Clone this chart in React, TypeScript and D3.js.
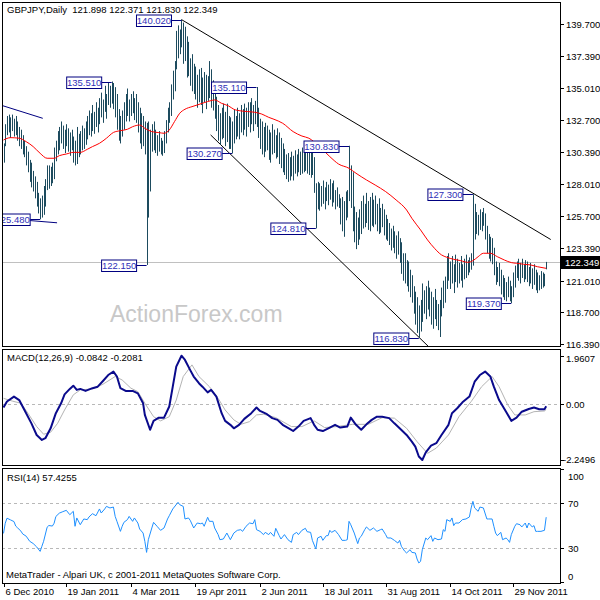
import React from 'react';
import * as d3 from 'd3';

const highs = [
131.0,132.4,133.0,133.1,132.9,133.1,132.8,133.0,132.6,132.2,
132.0,131.6,131.2,130.8,130.4,129.8,129.6,129.0,128.6,128.2,
127.4,127.0,127.2,127.9,128.4,129.4,129.4,129.3,129.6,130.7,
131.2,131.9,132.2,132.6,132.3,132.0,132.4,132.1,131.8,132.0,
131.5,131.2,132.2,131.7,131.9,132.3,132.1,132.6,133.0,133.4,
133.2,133.8,133.3,134.0,133.6,134.3,134.7,134.2,135.2,134.6,
135.4,135.2,135.51,135.4,135.1,134.6,133.5,133.0,133.4,134.0,
134.6,135.0,134.2,134.6,134.8,134.3,134.6,134.0,133.6,133.2,
133.0,132.6,132.5,132.6,132.0,132.4,132.6,132.0,131.6,131.9,
131.4,131.2,131.9,132.7,133.6,134.0,135.3,136.3,137.0,139.2,
139.6,139.3,140.02,139.8,139.5,138.8,138.4,137.2,137.5,136.8,
136.6,136.0,136.4,136.5,135.8,136.2,136.0,135.9,137.0,136.4,
135.6,135.2,134.4,133.8,133.2,133.6,133.9,133.3,133.9,133.0,
132.9,132.6,133.5,133.0,133.6,133.2,133.8,133.5,133.9,133.6,
134.0,134.0,134.3,133.8,134.1,135.11,133.6,132.8,132.6,132.2,
132.5,132.3,132.0,131.8,132.4,132.0,131.6,132.1,131.8,131.4,
131.0,130.6,130.2,130.3,130.0,130.4,130.1,130.5,130.2,130.6,
130.4,130.7,130.3,130.8,130.5,130.7,130.4,130.6,130.0,128.1,
128.2,128.1,127.9,128.3,127.8,128.2,128.0,128.4,128.1,128.3,
127.6,127.8,127.3,127.0,127.1,126.8,127.5,127.6,130.83,129.4,
128.9,126.4,126.0,125.6,126.2,126.8,127.2,126.6,127.4,126.8,
127.1,127.4,126.9,127.2,126.6,127.0,126.3,126.6,126.2,125.8,
125.5,125.2,124.8,125.0,124.6,124.3,124.6,124.1,123.8,123.0,
123.0,122.5,122.4,121.8,121.4,120.6,120.2,119.8,119.2,119.6,
120.8,120.3,120.6,121.0,120.5,120.2,119.8,120.4,119.6,119.3,
119.6,120.5,121.0,121.3,122.8,123.0,122.4,122.8,122.2,122.9,
122.6,122.3,122.8,122.2,122.6,122.9,122.5,122.7,123.0,127.3,
126.6,126.0,125.8,126.2,126.0,126.3,125.9,125.0,124.4,124.2,
124.1,123.4,122.4,122.0,122.3,121.8,121.4,121.2,120.9,121.3,
121.0,120.6,121.6,122.1,122.4,122.6,122.3,122.6,122.2,122.5,
122.4,122.0,122.3,121.9,122.2,121.8,121.6,121.4,121.7,121.6,
121.5,122.371
];

const lows = [
129.6,130.8,131.6,131.8,131.4,131.9,131.5,131.6,131.2,130.8,
130.6,130.2,130.0,129.4,128.9,128.2,127.8,127.5,127.0,126.4,
125.9,125.48,125.6,125.8,126.4,127.6,127.7,127.9,128.1,128.4,
129.7,130.2,130.5,131.0,130.6,130.3,130.8,130.4,130.1,130.5,
129.6,129.4,129.5,130.0,130.2,130.5,130.6,130.9,131.3,131.6,
131.5,131.9,131.7,132.2,131.8,132.4,132.9,132.5,133.3,132.8,
133.8,133.6,133.9,133.5,132.9,132.0,131.2,131.0,131.5,132.0,
132.6,133.0,132.6,133.0,133.2,132.7,132.5,131.8,131.0,130.6,
130.8,130.2,122.15,125.6,127.5,130.4,130.5,130.3,130.1,130.4,
130.2,130.1,130.3,131.0,131.8,132.5,133.0,134.2,134.8,136.4,
137.2,137.5,138.0,136.8,137.0,135.8,135.9,135.2,134.8,134.6,
134.2,133.6,134.0,133.8,133.2,134.0,133.5,134.1,134.3,133.6,
133.4,132.8,131.9,131.2,130.9,131.3,131.4,130.8,131.1,130.6,
130.6,130.27,131.0,131.3,131.5,131.3,131.8,131.6,132.0,131.5,
132.2,131.8,132.4,131.9,132.4,132.2,131.4,130.6,130.2,130.0,
130.4,130.5,129.8,129.6,130.2,130.3,129.9,130.0,129.5,129.2,
128.9,128.7,128.4,128.2,128.3,128.6,128.3,128.8,128.6,128.9,
128.7,128.8,128.9,129.0,128.8,128.7,128.5,128.7,127.4,124.81,
126.2,126.1,126.4,126.6,126.2,126.8,126.5,126.9,126.4,126.7,
126.2,126.4,126.3,125.1,124.6,124.2,125.4,125.6,126.8,126.3,
124.6,123.8,123.3,123.6,124.0,124.4,124.8,124.9,125.2,124.7,
124.6,125.0,124.9,125.1,124.6,124.4,124.5,124.9,124.3,124.0,
123.9,123.6,123.2,123.4,123.0,122.6,122.9,122.3,121.5,121.0,
120.8,120.6,120.2,119.8,119.4,118.6,117.8,117.2,116.83,117.3,
118.0,118.6,118.2,118.9,118.4,117.8,117.5,118.2,117.7,117.4,
116.9,118.4,119.0,119.4,120.4,121.0,120.4,120.8,120.1,120.9,
120.5,120.8,121.0,120.5,121.1,121.2,121.4,121.6,121.8,122.1,
124.0,124.4,124.3,124.7,124.6,125.0,124.0,123.0,122.6,122.4,
122.2,121.4,120.7,120.9,120.6,120.0,119.8,119.6,119.5,119.8,
119.5,119.37,119.8,120.5,121.2,121.0,120.8,121.2,120.9,121.1,
120.9,120.6,120.8,120.4,120.7,120.3,120.1,120.3,120.4,120.5,
120.6,121.83
];

// [bar, value]
const maPoints: [number, number][] = [
[0,131.25],[4,131.42],[9,131.38],[13,131.13],[17,130.77],[21,130.28],[25,129.92],[29,129.92],
[32,130.11],[36,130.23],[40,130.35],[44,130.35],[48,130.57],[51,130.77],[55,131.01],[59,131.38],
[63,131.8],[67,131.93],[71,132.03],[74,132.22],[78,132.34],[81,132.1],[85,131.86],[89,131.79],
[92,131.74],[95,131.98],[98,132.59],[101,133.2],[104,133.49],[108,133.68],[111,133.8],[115,133.97],
[119,134.12],[121,134.17],[125,133.92],[129,133.73],[132,133.49],[136,133.37],[140,133.32],[144,133.27],
[148,133.14],[152,132.9],[155,132.76],[160,132.47],[166,131.86],[171,131.54],[175,131.38],[181,130.77],
[187,130.04],[192,129.5],[198,129.19],[202,128.83],[208,128.34],[213,127.97],[219,127.49],[225,126.88],
[231,126.15],[234,125.55],[239,124.7],[243,123.97],[247,123.36],[251,122.88],[254,122.71],[258,122.56],
[262,122.46],[266,122.34],[269,122.46],[272,122.75],[275,123.0],[279,123.0],[283,122.75],[287,122.51],
[291,122.32],[294,122.27],[298,122.2],[302,122.15],[306,122.02],[311,121.9]
];

const macdMain: [number, number][] = [
[0,-0.13],[2,0.11],[6,0.31],[9,0.17],[12,-0.23],[16,-0.77],[19,-1.24],[22,-1.44],[24,-1.37],[27,-0.97],
[30,-0.36],[33,0.04],[35,0.40],[38,0.62],[40,0.75],[42,0.58],[44,0.62],[47,0.54],[51,0.65],[54,0.71],
[57,0.94],[60,1.18],[63,1.32],[65,1.12],[67,0.65],[70,0.54],[74,0.54],[77,0.44],[80,0.04],[81,-0.43],
[84,-1.03],[86,-0.67],[89,-0.54],[92,-0.54],[95,-0.09],[97,0.71],[99,1.52],[102,1.96],[104,1.79],[107,1.38],
[109,1.12],[112,0.85],[114,0.71],[117,0.48],[119,0.58],[122,0.31],[125,-0.36],[127,-0.67],[130,-0.83],[132,-0.97],
[135,-0.83],[138,-0.59],[142,-0.36],[145,-0.13],[147,-0.27],[151,-0.40],[154,-0.56],[157,-0.63],[160,-0.83],[164,-0.99],
[166,-1.08],[169,-0.90],[172,-0.67],[176,-0.56],[178,-0.83],[180,-1.03],[183,-1.08],[187,-0.94],[190,-0.83],[193,-0.94],
[197,-0.90],[199,-0.54],[202,-0.83],[205,-1.03],[208,-0.81],[211,-0.63],[214,-0.50],[217,-0.50],[221,-0.56],[224,-0.77],
[227,-0.97],[231,-1.24],[234,-1.51],[236,-1.71],[238,-2.11],[240,-2.25],[242,-1.94],[245,-1.67],[248,-1.57],[251,-1.24],
[255,-0.83],[257,-0.36],[260,-0.16],[263,0.08],[267,0.31],[270,0.91],[273,1.18],[276,1.32],[279,1.12],[281,0.71],
[284,0.17],[288,-0.30],[291,-0.67],[294,-0.54],[297,-0.30],[301,-0.19],[304,-0.13],[307,-0.20],[310,-0.20],[311,-0.08]
];

const macdSignal: [number, number][] = [
[0,0.24],[5,0.13],[10,0.04],[14,-0.36],[19,-0.90],[23,-1.21],[27,-1.13],[31,-0.77],[35,-0.23],[40,0.38],
[44,0.58],[51,0.62],[57,0.81],[64,1.12],[68,0.98],[73,0.65],[77,0.51],[81,0.04],[86,-0.50],[90,-0.67],
[95,-0.50],[99,0.17],[103,1.12],[108,1.59],[112,1.12],[118,0.71],[123,0.24],[127,-0.23],[132,-0.63],[136,-0.81],
[141,-0.70],[145,-0.43],[149,-0.40],[156,-0.54],[165,-0.90],[171,-0.90],[178,-0.67],[184,-0.94],[191,-0.90],[200,-0.81],
[209,-0.81],[217,-0.54],[224,-0.56],[231,-0.97],[237,-1.51],[243,-1.98],[248,-1.77],[255,-1.24],[261,-0.50],[268,0.11],
[274,0.71],[280,1.12],[284,0.71],[289,-0.03],[293,-0.43],[299,-0.43],[304,-0.30],[310,-0.27],[311,-0.21]
];

const rsiPoints: [number, number][] = [
[0,43],[1,52],[2,56.5],[4,55],[6,53.5],[7,49.5],[8,48],[10,45],[11,42.5],[13,40.5],[15,36],[17,34],[19,31],[21,27],
[22,31.5],[23,36],[25,48.5],[26,50],[28,49.5],[29,52],[30,58],[32,61],[34,62.3],[36,63.5],[38,59.6],[40,62.6],
[41,49.3],[42,56.7],[44,50.7],[46,55.8],[48,55.2],[49,57.6],[51,60.5],[53,58.7],[55,64.7],[56,61.1],[58,64.7],
[59,67],[61,65.6],[63,66.4],[64,58.1],[65,53.7],[67,44.8],[68,49.3],[69,52.8],[71,55.2],[72,58.1],[74,53.7],
[75,56.7],[77,52.2],[78,46.9],[80,43.3],[81,35.9],[82,26.1],[83,37.4],[85,47.8],[86,52.8],[88,49.3],[90,45.7],
[92,47.8],[94,55.8],[95,58.7],[97,64.7],[100,70.6],[101,68.5],[103,67],[104,55.8],[106,56.7],[107,54.6],[109,47.8],
[111,52.2],[113,51.6],[114,52.2],[115,49.3],[117,57.3],[118,53.7],[120,53.7],[121,47.8],[123,41.9],[124,37.4],
[126,38],[128,43.3],[130,37.4],[132,43.3],[134,45.7],[136,46.3],[137,44.8],[139,49.3],[141,52.2],[143,51.6],
[144,55.2],[145,46.3],[147,44.8],[149,41.9],[150,43.9],[152,41.9],[153,43.9],[155,40.4],[156,47.5],[158,41],
[159,38],[161,41.9],[163,37.4],[165,35],[166,41.9],[168,43.9],[169,41.9],[171,45.7],[173,47.5],[174,44.5],
[176,43.9],[177,36.8],[179,29.1],[180,38.9],[182,40.4],[183,36.8],[185,41],[186,41],[187,45.7],[188,43.9],
[190,45.7],[192,41.9],[194,36.8],[196,36.8],[197,37.4],[198,53.7],[199,50.7],[201,43.3],[203,33.9],[204,38.9],
[205,40.4],[207,46.3],[208,48.7],[210,45.7],[212,47.8],[214,44.8],[216,46.3],[217,46.9],[219,41.9],[220,38.9],
[222,38.9],[224,36.8],[226,34.4],[227,36.8],[228,31.5],[230,27],[231,25.6],[233,28.5],[234,26.1],[236,25.6],
[237,20.2],[238,16.7],[239,18.1],[240,28.5],[242,38.9],[243,37.4],[245,41],[246,35.9],[247,38.9],[249,37.4],
[251,38],[252,46.3],[253,44.8],[254,55.2],[256,53.7],[257,56.7],[258,49.9],[259,52.2],[261,52.2],[263,55.2],
[265,55.8],[267,57.6],[268,65.6],[269,71.5],[270,65.6],[272,62.6],[273,66.4],[275,65.6],[277,55.8],[278,55.8],
[280,55.8],[281,49.3],[282,43.3],[283,41],[285,43.9],[286,37.4],[288,38.9],[289,37.4],[290,35],[291,41.9],
[293,49.3],[294,51.6],[296,50.7],[297,48.7],[299,52.2],[300,47.8],[301,52.2],[303,48.7],[304,49.9],[305,44.8],
[306,44.8],[308,44.8],[310,45.7],[311,57.4]
];

const priceTicks = [139.7, 137.39, 135.01, 132.7, 130.39, 128.01, 125.7, 123.39, 121.01, 118.7, 116.39];
const macdTicks = [1.9607, 0, -2.2496];
const rsiTicks = [100, 70, 30, 0];
const rsiLevels = [70, 30];
const dateLabels = ['6 Dec 2010', '19 Jan 2011', '4 Mar 2011', '19 Apr 2011', '2 Jun 2011', '18 Jul 2011', '31 Aug 2011', '14 Oct 2011', '29 Nov 2011'];
const dateBars = [0, 36, 73, 110, 147, 183, 219, 256, 292];

const pivotBars = [102, 62, 145, 131, 82, 21, 179, 198, 238, 269, 291];
const pivotValues = [140.02, 135.51, 135.11, 130.27, 122.15, 125.48, 124.81, 130.83, 116.83, 127.3, 119.37];

const blackTrendLines: [number, number][][] = [
  [[102, 140.02], [313.6, 124.0]],
  [[118.7, 131.62], [244.4, 116.1]],
];
const navyTrendLines: [number, number][][] = [
  [[-0.5, 133.75], [22.5, 132.83]],
  [[-1, 125.55], [30.7, 125.22]],
];

const symbol = 'GBPJPY,Daily';
const ohlc = [121.898, 122.371, 121.83, 122.349];
const lastPrice = 122.349;
const macdTitle = 'MACD(12,26,9) -0.0842 -0.2081';
const rsiTitle = 'RSI(14) 57.4255';
const credit = 'MetaTrader - Alpari UK, c 2001-2011 MetaQuotes Software Corp.';
const watermark = 'ActionForex.com';

const FONT = "'Liberation Sans', Arial, sans-serif";
const FS = 9.5;

export default function App() {
  const L = 2, R = 560;
  const mainTop = 2, mainBot = 346;
  const macdTop = 349, macdBot = 465;
  const rsiTop = 468, rsiBot = 583;

  const x = d3.scaleLinear().domain([0, 311]).range([3.5, 546.2]);
  const y = d3.scaleLinear().domain([139.7, 116.39]).range([24, 344]);
  const ym = d3.scaleLinear().domain([1.9607, -2.2496]).range([355.7, 460]);
  const yr = d3.scaleLinear().domain([100, 0]).range([469.25, 581.75]);

  const maLine = d3.line<[number, number]>().x(d => x(d[0])).y(d => y(d[1])).curve(d3.curveMonotoneX);
  const macdLine = d3.line<[number, number]>().x(d => x(d[0])).y(d => ym(d[1]));
  const rsiLine = d3.line<[number, number]>().x(d => x(d[0])).y(d => yr(d[1]));
  const tl = d3.line<[number, number]>().x(d => x(d[0])).y(d => y(d[1]));

  const fmt3 = d3.format('.3f');
  const clamp = (v: number, a: number, b: number) => Math.max(a, Math.min(b, v));

  return (
    <svg width={600} height={600} style={{ position: 'absolute', left: 0, top: 0, background: '#fff' }}
      fontFamily={FONT} fontSize={FS}>
      <defs>
        <clipPath id="mainClip"><rect x={L + 1} y={mainTop + 1} width={R - L - 1} height={mainBot - mainTop - 1} /></clipPath>
        <clipPath id="macdClip"><rect x={L + 1} y={macdTop + 1} width={R - L - 1} height={macdBot - macdTop - 1} /></clipPath>
        <clipPath id="rsiClip"><rect x={L + 1} y={rsiTop + 1} width={R - L - 1} height={rsiBot - rsiTop - 1} /></clipPath>
      </defs>
      <rect x={0} y={0} width={600} height={600} fill="#fff" />

      {/* ===== main panel ===== */}
      <g clipPath="url(#mainClip)">
        <text x={110} y={322} fontSize={23} fill="#c8c8c8" fontFamily={FONT}>{watermark}</text>
        <line x1={L} x2={R} y1={Math.round(y(lastPrice)) + 0.5} y2={Math.round(y(lastPrice)) + 0.5} stroke="#c0c0c0" strokeWidth={1} />
        {navyTrendLines.map((p, i) => (
          <path key={'n' + i} d={tl(p) || ''} stroke="#000080" strokeWidth={1} fill="none" />
        ))}
        {blackTrendLines.map((p, i) => (
          <path key={'b' + i} d={tl(p) || ''} stroke="#000" strokeWidth={1} fill="none" />
        ))}
        {highs.map((h, i) => {
          const xx = Math.round(x(i)) + 0.5;
          const y1 = y(h), y2 = Math.max(y(lows[i]), y1 + 1);
          return <line key={i} x1={xx} x2={xx} y1={y1} y2={y2} stroke="#1d4b5e" strokeWidth={1} />;
        })}
        <path d={maLine(maPoints) || ''} stroke="#ff0000" strokeWidth={1} fill="none" />
        {pivotBars.map((b, i) => {
          const bx = x(b);
          const py = Math.round(y(pivotValues[i])) + 0.5;
          const right = bx - 10;
          return (
            <g key={'p' + i}>
              <line x1={right} x2={bx} y1={py} y2={py} stroke="#000080" strokeWidth={1} />
              <rect x={right - 35} y={py - 5.5} width={35} height={11.5} fill="#fff" stroke="#000080" strokeWidth={1} />
              <text x={right - 17.5} y={py + 3.5} textAnchor="middle" fill="#3030b8">{fmt3(pivotValues[i])}</text>
            </g>
          );
        })}
      </g>
      <text x={7} y={13} fill="#000" style={{ whiteSpace: 'pre' }}>{symbol + '  ' + ohlc.map(fmt3).join(' ')}</text>

      {/* ===== MACD panel ===== */}
      <g clipPath="url(#macdClip)">
        <line x1={L} x2={R} y1={Math.round(ym(0)) + 0.5} y2={Math.round(ym(0)) + 0.5} stroke="#b8b8b8" strokeDasharray="3,3" />
        <path d={macdLine(macdSignal) || ''} stroke="#b4b4b4" strokeWidth={1} fill="none" />
        <path d={macdLine(macdMain) || ''} stroke="#0a0a8c" strokeWidth={2} fill="none" strokeLinejoin="round" />
      </g>
      <text x={7} y={361} fill="#000">{macdTitle}</text>

      {/* ===== RSI panel ===== */}
      <g clipPath="url(#rsiClip)">
        {rsiLevels.map(v => (
          <line key={v} x1={L} x2={R} y1={Math.round(yr(v)) + 0.5} y2={Math.round(yr(v)) + 0.5} stroke="#b8b8b8" strokeDasharray="3,3" />
        ))}
        <path d={rsiLine(rsiPoints) || ''} stroke="#1e90ff" strokeWidth={1} fill="none" />
      </g>
      <text x={7} y={481} fill="#000">{rsiTitle}</text>
      <text x={6} y={578} fill="#000">{credit}</text>

      {/* ===== panel borders ===== */}
      <rect x={L + 0.5} y={mainTop + 0.5} width={R - L} height={mainBot - mainTop} fill="none" stroke="#000" />
      <rect x={L + 0.5} y={macdTop + 0.5} width={R - L} height={macdBot - macdTop} fill="none" stroke="#000" />
      <rect x={L + 0.5} y={rsiTop + 0.5} width={R - L} height={rsiBot - rsiTop} fill="none" stroke="#000" />

      {/* ===== right axes ===== */}
      {priceTicks.map(t => {
        const ty = Math.round(y(t)) + 0.5;
        return (
          <g key={'pt' + t}>
            <line x1={R + 0.5} x2={R + 4} y1={ty} y2={ty} stroke="#000" />
            <text x={566} y={ty + 3.5} fill="#000">{fmt3(t)}</text>
          </g>
        );
      })}
      <rect x={R + 1} y={Math.round(y(lastPrice)) - 6} width={40} height={13} fill="#000" />
      <text x={565} y={Math.round(y(lastPrice)) + 4} fill="#fff">{fmt3(lastPrice)}</text>

      {macdTicks.map(t => {
        const ty = clamp(ym(t), 358, 459);
        return (
          <g key={'mt' + t}>
            <line x1={R + 0.5} x2={R + 4} y1={Math.round(ym(t)) + 0.5} y2={Math.round(ym(t)) + 0.5} stroke="#000" />
            <text x={t < 0 ? 563 : 566} y={ty + 3.5} fill="#000">{t === 0 ? '0.00' : String(t)}</text>
          </g>
        );
      })}
      {rsiTicks.map(t => {
        const ty = clamp(yr(t), 476, 576);
        return (
          <g key={'rt' + t}>
            <line x1={R + 0.5} x2={R + 4} y1={Math.round(yr(t)) + 0.5} y2={Math.round(yr(t)) + 0.5} stroke="#000" />
            <text x={568} y={ty + 3.5} fill="#000">{String(t)}</text>
          </g>
        );
      })}

      {/* ===== date axis ===== */}
      {dateBars.map((b, i) => {
        const dx = Math.round(x(b)) + 0.5;
        return (
          <g key={'d' + i}>
            <line x1={dx} x2={dx} y1={rsiBot} y2={rsiBot + 4} stroke="#000" />
            <text x={dx + 1} y={595} fill="#000">{dateLabels[i]}</text>
          </g>
        );
      })}
    </svg>
  );
}
